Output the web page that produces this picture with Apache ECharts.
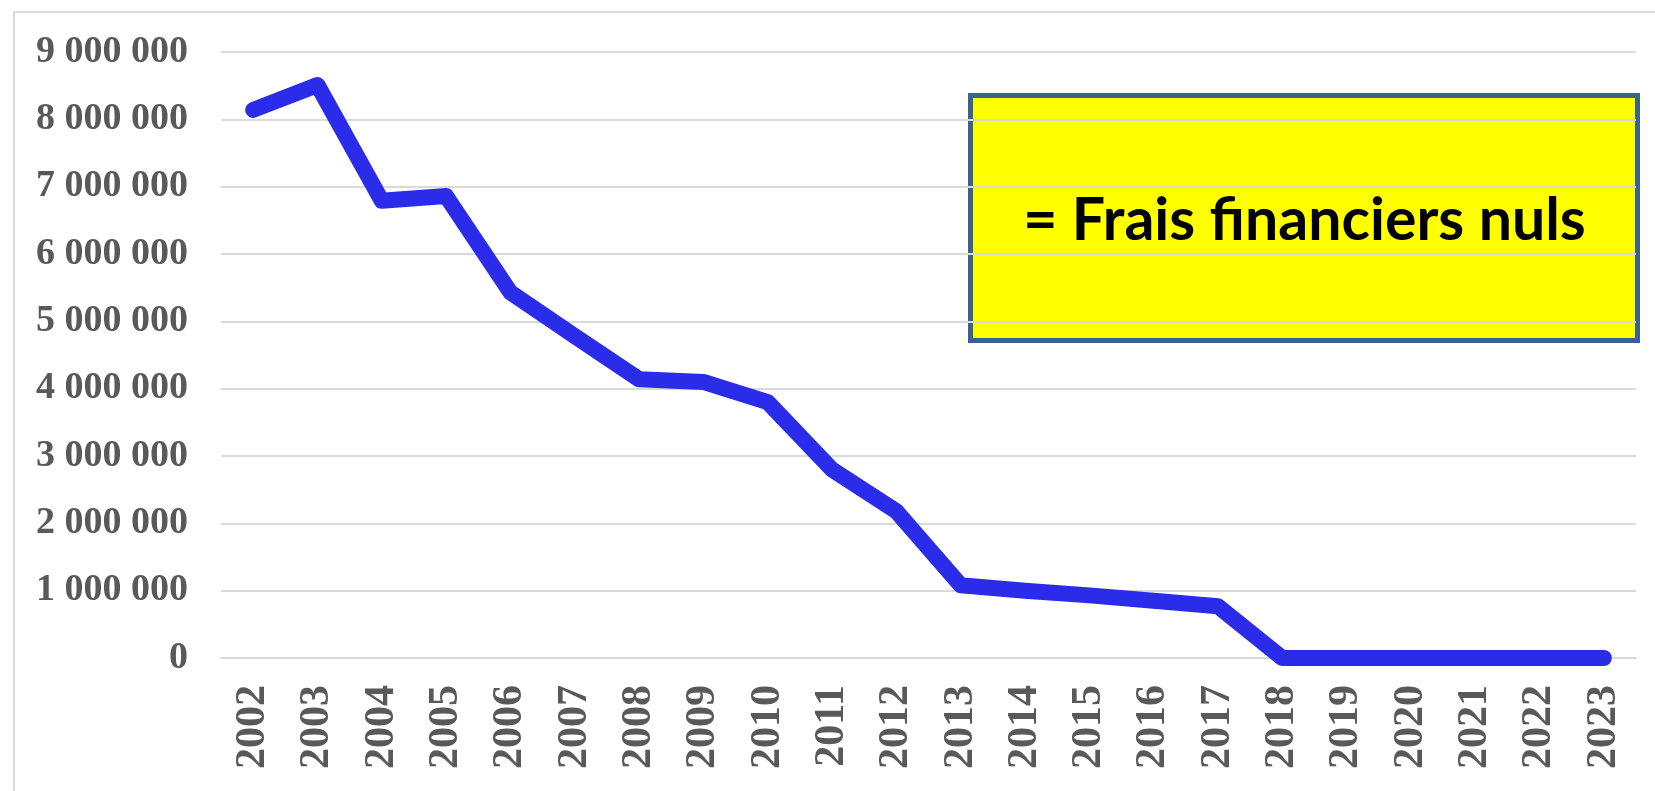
<!DOCTYPE html>
<html>
<head>
<meta charset="utf-8">
<title>Frais financiers</title>
<script src="https://cdn.jsdelivr.net/npm/echarts@6/dist/echarts.min.js"></script>
<style>
  html, body { margin: 0; padding: 0; background: #fff; }
  #chart { width: 1655px; height: 791px; }
</style>
</head>
<body>
<div id="chart"></div>
<script>
// annees
var years = ['2002', '2003', '2004', '2005', '2006', '2007', '2008', '2009', '2010', '2011', '2012',
  '2013', '2014', '2015', '2016', '2017', '2018', '2019', '2020', '2021', '2022', '2023'];
// frais financiers
var frais = [8140000, 8510000, 6790000, 6860000, 5430000, 4780000, 4140000, 4100000, 3800000, 2800000, 2180000,
  1080000, 1000000, 930000, 850000, 770000, 0, 0, 0, 0, 0, 0];
var yMin = 0;
var yMax = 9000000;
var yStep = 1000000;
var boxText = '= Frais financiers nuls';

function spaced(v) {
  return String(v).replace(/\B(?=(\d{3})+(?!\d))/g, ' ');
}

var chart = echarts.init(document.getElementById('chart'));
chart.setOption({
  animation: false,
  grid: {
    left: 221,
    right: 19,
    top: 52,
    bottom: 133,
    containLabel: false
  },
  xAxis: {
    type: 'category',
    data: years,
    boundaryGap: true,
    axisLine: { show: true, lineStyle: { color: '#d9d9d9', width: 2 } },
    axisTick: { show: false },
    axisLabel: {
      rotate: 90,
      margin: 27,
      color: '#595959',
      fontFamily: 'Liberation Serif',
      fontWeight: 'bold',
      fontSize: 42
    }
  },
  yAxis: {
    type: 'value',
    min: yMin,
    max: yMax,
    interval: yStep,
    axisLine: { show: false },
    axisTick: { show: false },
    splitLine: { lineStyle: { color: '#d9d9d9', width: 2 } },
    axisLabel: {
      margin: 33,
      color: '#595959',
      fontFamily: 'Liberation Serif',
      fontWeight: 'bold',
      fontSize: 38,
      formatter: spaced
    }
  },
  series: [{
    type: 'line',
    data: frais,
    symbol: 'none',
    lineStyle: { color: '#2b2bea', width: 16, cap: 'round', join: 'round' }
  }],
  graphic: [
    {
      // cadre exterieur
      type: 'rect',
      shape: { x: 14, y: 12, width: 1700, height: 900 },
      style: { fill: 'none', stroke: '#d9d9d9', lineWidth: 2 },
      silent: true
    },
    {
      type: 'group',
      left: 968,
      top: 93,
      children: [
        {
          type: 'rect',
          shape: { x: 0, y: 0, width: 667, height: 245 },
          style: { fill: '#ffff00', stroke: '#3b6190', lineWidth: 5 }
        },
        {
          type: 'text',
          x: 334,
          y: 125,
          style: {
            text: boxText,
            fill: '#000',
            font: 'bold 59px Lato',
            align: 'center',
            verticalAlign: 'middle'
          }
        }
      ]
    }
  ]
});
window.addEventListener('resize', function () {
  chart.resize();
});
</script>
</body>
</html>
